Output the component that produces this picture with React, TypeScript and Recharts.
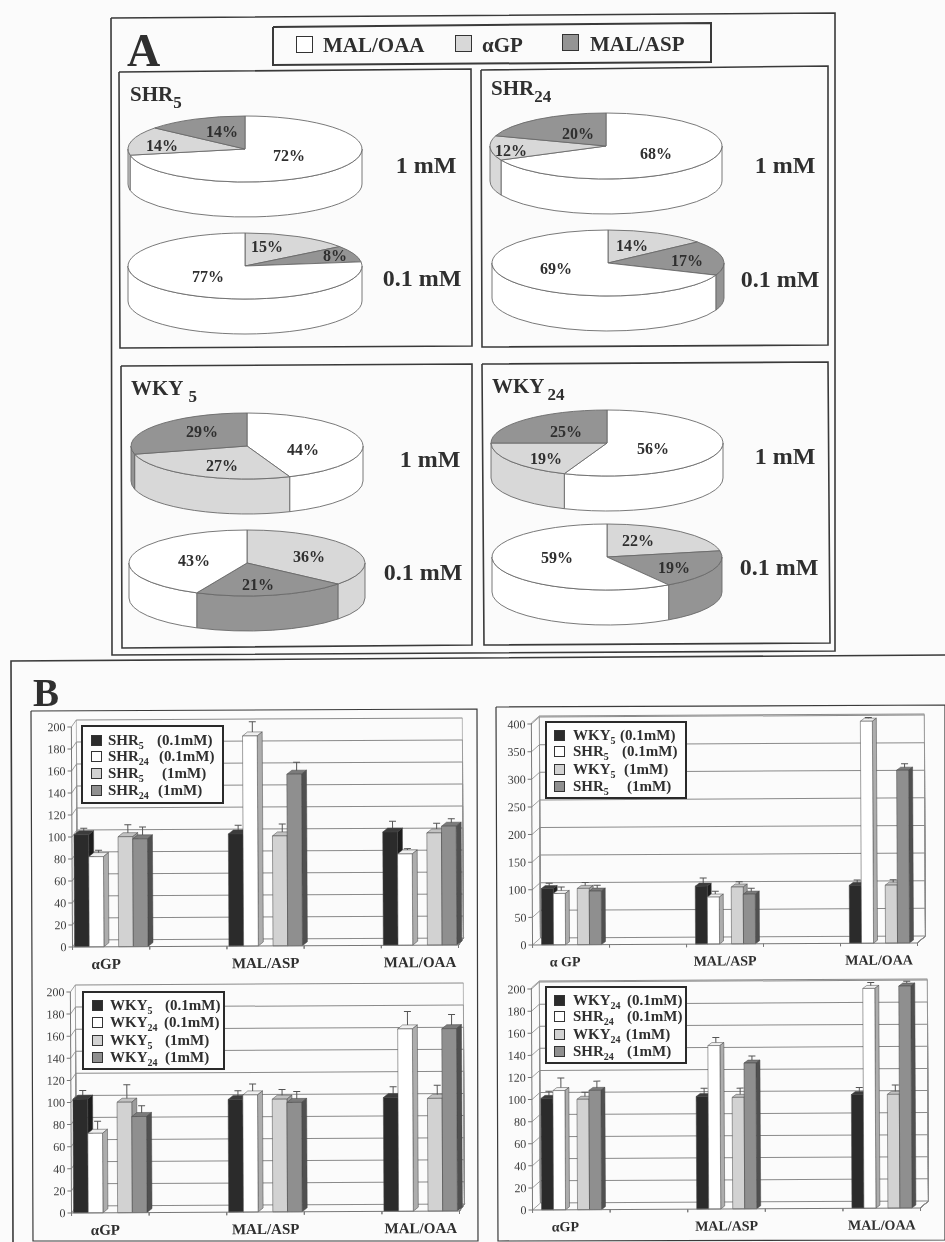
import React from "react";
import {
  Bar,
  BarChart,
  CartesianGrid,
  Pie,
  PieChart,
  XAxis,
  YAxis,
} from "recharts";

const SERIF = "'Liberation Serif', 'Times New Roman', serif";
const INK = "#2f2f2f";
const TILT = "rotate(-0.3deg)";

// panel A: percent shares in the clockwise order they are drawn from 12 o'clock
const highOrder = ["MAL/OAA", "αGP", "MAL/ASP"];
const lowOrder = ["αGP", "MAL/ASP", "MAL/OAA"];
const shr5High = [72, 14, 14];
const shr5Low = [15, 8, 77];
const shr24High = [68, 12, 20];
const shr24Low = [14, 17, 69];
const wky5High = [44, 27, 29];
const wky5Low = [36, 21, 43];
const wky24High = [56, 19, 25];
const wky24Low = [22, 19, 59];

const sliceFill: Record<string, string> = {
  "MAL/OAA": "#ffffff",
  "αGP": "#d8d8d8",
  "MAL/ASP": "#949494",
};

// panel B: bar values and upper error lengths, null = empty category
const categories = ["αGP", "", "MAL/ASP", "", "MAL/OAA"];
const categoriesSpaced = ["α GP", "", "MAL/ASP", "", "MAL/OAA"];

const shrValues = [
  [102, null, 102, null, 103],
  [82, null, 191, null, 83],
  [100, null, 100, null, 102],
  [98, null, 156, null, 108],
];
const shrErrors = [
  [4, null, 6, null, 8],
  [4, null, 11, null, 3],
  [9, null, 9, null, 7],
  [9, null, 9, null, 5],
];
const wkyShrValues = [
  [102, null, 105, null, 105],
  [93, null, 85, null, 402],
  [102, null, 103, null, 105],
  [97, null, 90, null, 313],
];
const wkyShrErrors = [
  [7, null, 12, null, 7],
  [9, null, 8, null, 4],
  [8, null, 7, null, 7],
  [8, null, 8, null, 9],
];
const wkyValues = [
  [103, null, 102, null, 103],
  [72, null, 106, null, 165],
  [100, null, 102, null, 102],
  [87, null, 99, null, 165],
];
const wkyErrors = [
  [6, null, 6, null, 8],
  [9, null, 8, null, 14],
  [14, null, 7, null, 10],
  [8, null, 8, null, 11],
];
const wky24Values = [
  [101, null, 102, null, 103],
  [108, null, 148, null, 199],
  [100, null, 101, null, 103],
  [108, null, 132, null, 201],
];
const wky24Errors = [
  [5, null, 6, null, 5],
  [10, null, 6, null, 4],
  [5, null, 7, null, 7],
  [7, null, 5, null, 3],
];

const ticks200 = [0, 20, 40, 60, 80, 100, 120, 140, 160, 180, 200];
const ticks400 = [0, 50, 100, 150, 200, 250, 300, 350, 400];

const barFront = ["#2b2b2b", "#ffffff", "#d2d2d2", "#8f8f8f"];
const barTop = ["#3c3c3c", "#f0f0f0", "#c2c2c2", "#7b7b7b"];
const barSide = ["#1d1d1d", "#adadad", "#9c9c9c", "#505050"];

// frames traced as corner lists, the scan sits slightly crooked
const frames = [
  { pts: "111,18 835,13 835,651 112,655 111,18", w: 1.6 },
  { pts: "273,27 711,23 711,62 273,65 273,27", w: 2 },
  { pts: "119,72 471,69 472,346 120,348 119,72", w: 1.6 },
  { pts: "481,70 828,66 828,345 482,347 481,70", w: 1.6 },
  { pts: "121,366 472,364 472,645 122,648 121,366", w: 1.6 },
  { pts: "482,364 828,362 830,643 484,645 482,364", w: 1.6 },
  { pts: "13,1242 11,661 945,655", w: 1.6 },
  { pts: "31,711 477,709 478,1241 33,1241 31,711", w: 1.2 },
  { pts: "496,707 945,705 945,1240 498,1241 496,707", w: 1.2 },
];

const WALL = 35;
const PIE_W = 300;
const PIE_H = 120;
const PIE_CX = 150;
const PIE_CY = 45;

const ellipseShape = (ry: number) => (props: any) => {
  const { cx, cy, outerRadius: rx, startAngle, endAngle, fill } = props;
  const pt = (deg: number, dy = 0) => {
    const a = (deg * Math.PI) / 180;
    return `${cx + rx * Math.cos(a)} ${cy - ry * Math.sin(a) + dy}`;
  };
  const large = Math.abs(startAngle - endAngle) > 180 ? 1 : 0;
  const a1 = Math.min(startAngle, 0);
  const a2 = Math.max(endAngle, -180);
  const hasWall = a1 > a2;
  return (
    <g>
      {hasWall && (
        <path
          d={`M ${pt(a1)} A ${rx} ${ry} 0 0 1 ${pt(a2)} L ${pt(a2, WALL)} A ${rx} ${ry} 0 0 0 ${pt(a1, WALL)} Z`}
          fill={fill}
          stroke="#6a6a6a"
          strokeWidth={0.9}
        />
      )}
      <path
        d={`M ${cx} ${cy} L ${pt(startAngle)} A ${rx} ${ry} 0 ${large} 1 ${pt(endAngle)} Z`}
        fill={fill}
        stroke="#6a6a6a"
        strokeWidth={0.9}
      />
    </g>
  );
};

type DiscProps = {
  values: number[];
  order: string[];
  cx: number;
  cy: number;
  rx: number;
  labels: number[][];
};

const Disc = ({ values, order, cx, cy, rx, labels }: DiscProps) => {
  const data = values.map((value, i) => ({
    name: order[i],
    value,
    fill: sliceFill[order[i]],
  }));
  const left = cx - PIE_CX;
  const top = cy - PIE_CY;
  const renderLabel = (p: any) => (
    <text
      x={labels[p.index][0] - left}
      y={labels[p.index][1] - top}
      textAnchor="middle"
      dominantBaseline="central"
      fontFamily={SERIF}
      fontWeight={700}
      fontSize={16}
      fill={INK}
    >
      {values[p.index]}%
    </text>
  );
  return (
    <div style={{ position: "absolute", left, top }}>
      <PieChart width={PIE_W} height={PIE_H} margin={{ top: 0, right: 0, bottom: 0, left: 0 }}>
        <Pie
          data={data}
          dataKey="value"
          cx={PIE_CX}
          cy={PIE_CY}
          outerRadius={rx}
          startAngle={90}
          endAngle={-270}
          isAnimationActive={false}
          shape={ellipseShape(33)}
          label={renderLabel}
          labelLine={false}
        />
      </PieChart>
    </div>
  );
};

const Txt = ({ x, y, size, anchor = "left", weight = 700, children }: any) => (
  <div
    style={{
      position: "absolute",
      left: x,
      top: y,
      transform: `translate(${anchor === "center" ? "-50%" : "0"}, -50%)`,
      fontFamily: SERIF,
      fontWeight: weight,
      fontSize: size,
      lineHeight: 1,
      color: INK,
      whiteSpace: "nowrap",
    }}
  >
    {children}
  </div>
);

const PanelTitle = ({ x, y, name, sub, gap = 0 }: any) => (
  <Txt x={x} y={y} size={21}>
    {name}
    <span style={{ fontSize: 17, position: "relative", top: 7, marginLeft: gap }}>{sub}</span>
  </Txt>
);

const Swatch = ({ x, y, size, fill, border = 1.5 }: any) => (
  <div
    style={{
      position: "absolute",
      left: x,
      top: y,
      width: size,
      height: size,
      boxSizing: "border-box",
      background: fill,
      border: `${border}px solid #333`,
    }}
  />
);

const bar3d = (index: number, depthX: number, depthY: number) => (props: any) => {
  const { x, y, width, height, payload } = props;
  const raw = payload[`s${index}`];
  const err = payload[`e${index}`];
  if (!height || raw == null || err == null) return <g />;
  const tipX = x + width / 2 + depthX / 2;
  const baseY = y - depthY / 2;
  const tipY = baseY - (err * height) / raw;
  const edge = "#444";
  return (
    <g>
      <line x1={tipX} y1={baseY} x2={tipX} y2={tipY} stroke="#555" strokeWidth={1} />
      <line x1={tipX - 3.5} y1={tipY} x2={tipX + 3.5} y2={tipY} stroke="#555" strokeWidth={1} />
      <path
        d={`M ${x} ${y} L ${x + depthX} ${y - depthY} L ${x + width + depthX} ${y - depthY} L ${x + width} ${y} Z`}
        fill={barTop[index]}
        stroke={edge}
        strokeWidth={0.5}
      />
      <path
        d={`M ${x + width} ${y} L ${x + width + depthX} ${y - depthY} L ${x + width + depthX} ${y + height - depthY} L ${x + width} ${y + height} Z`}
        fill={barSide[index]}
        stroke={edge}
        strokeWidth={0.5}
      />
      <rect x={x} y={y} width={width} height={height} fill={barFront[index]} stroke={edge} strokeWidth={0.5} />
    </g>
  );
};

type LegendRow = { name: string; sub: string; dose: string; doseX: number; y: number };

type BarPanelProps = {
  plotLeft: number;
  plotRight: number;
  yTop: number;
  yZero: number;
  maxValue: number;
  ticks: number[];
  cats: string[];
  values: (number | null)[][];
  errors: (number | null)[][];
  barSize: number;
  depthX: number;
  depthY: number;
  wallX: number;
  wallY: number;
  labelSize: number;
  labelShift: number;
};

const BarPanel = (p: BarPanelProps) => {
  const marginLeft = 40;
  const marginTop = 12;
  const marginRight = 30;
  const marginBottom = 34;
  const plotW = p.plotRight - p.plotLeft;
  const plotH = p.yZero - p.yTop;
  const rows = p.cats.map((name, i) => {
    const row: Record<string, string | number | null> = { name };
    p.values.forEach((vals, s) => {
      row[`s${s}`] = vals[i];
      row[`e${s}`] = p.errors[s][i];
    });
    return row;
  });
  const gridLine = (g: any) => {
    const { x1, y1, x2, y2, index } = g;
    const c = "#8a8a8a";
    return (
      <g key={`grid-${index}-${y1}`}>
        <line x1={x1} y1={y1} x2={x1 + p.wallX} y2={y1 - p.wallY} stroke={c} strokeWidth={0.8} />
        <line x1={x1 + p.wallX} y1={y1 - p.wallY} x2={x2 + p.wallX} y2={y2 - p.wallY} stroke={c} strokeWidth={1} />
        <line x1={x2 + p.wallX} y1={y1 - p.wallY} x2={x2 + p.wallX} y2={plotH + marginTop - p.wallY} stroke={c} strokeWidth={0.6} />
        <line x1={x1 + p.wallX} y1={y1 - p.wallY} x2={x1 + p.wallX} y2={plotH + marginTop - p.wallY} stroke={c} strokeWidth={0.6} />
        <line x1={x2} y1={marginTop + plotH} x2={x2 + p.wallX} y2={marginTop + plotH - p.wallY} stroke={c} strokeWidth={0.8} />
      </g>
    );
  };
  const renderTick = (t: any) => {
    const half = plotW / p.cats.length / 2;
    const label = p.cats[t.index];
    return (
      <g>
        <line x1={t.x - half} y1={marginTop + plotH} x2={t.x - half} y2={marginTop + plotH + 3} stroke="#777" />
        <line x1={t.x + half} y1={marginTop + plotH} x2={t.x + half} y2={marginTop + plotH + 3} stroke="#777" />
        {label && (
          <text
            x={t.x + (t.index === 0 ? p.labelShift : 0)}
            y={marginTop + plotH + 17}
            textAnchor="middle"
            dominantBaseline="central"
            fontFamily={SERIF}
            fontWeight={700}
            fontSize={p.labelSize}
            fill={INK}
          >
            {label}
          </text>
        )}
      </g>
    );
  };
  return (
    <div style={{ position: "absolute", left: p.plotLeft - marginLeft, top: p.yTop - marginTop, transform: TILT }}>
      <BarChart
        width={plotW + marginLeft + marginRight}
        height={plotH + marginTop + marginBottom}
        data={rows}
        barSize={p.barSize}
        barGap={0}
        margin={{ top: marginTop, right: marginRight, bottom: 0, left: 0 }}
      >
        <CartesianGrid vertical={false} horizontal={gridLine} />
        <XAxis
          dataKey="name"
          height={marginBottom}
          interval={0}
          tickLine={false}
          axisLine={{ stroke: "#777" }}
          tick={renderTick}
        />
        <YAxis
          width={marginLeft}
          domain={[0, p.maxValue]}
          ticks={p.ticks}
          interval={0}
          tickSize={4}
          tickMargin={2}
          tickLine={{ stroke: "#777" }}
          axisLine={{ stroke: "#777" }}
          tick={{ fontFamily: SERIF, fontSize: 12, fill: "#3d3d3d" }}
        />
        <Bar dataKey="s0" isAnimationActive={false} shape={bar3d(0, p.depthX, p.depthY)} />
        <Bar dataKey="s1" isAnimationActive={false} shape={bar3d(1, p.depthX, p.depthY)} />
        <Bar dataKey="spacer" isAnimationActive={false} shape={() => <g />} />
        <Bar dataKey="s2" isAnimationActive={false} shape={bar3d(2, p.depthX, p.depthY)} />
        <Bar dataKey="s3" isAnimationActive={false} shape={bar3d(3, p.depthX, p.depthY)} />
      </BarChart>
    </div>
  );
};

const BarLegend = ({ box, swatchX, textX, rows }: { box: number[]; swatchX: number; textX: number; rows: LegendRow[] }) => (
  <>
    <div
      style={{
        position: "absolute",
        left: box[0],
        top: box[1],
        width: box[2] - box[0],
        height: box[3] - box[1],
        boxSizing: "border-box",
        background: "#fdfdfd",
        border: "2px solid #2a2a2a",
      }}
    />
    {rows.map((row, i) => (
      <React.Fragment key={i}>
        <Swatch x={swatchX} y={row.y - 5} size={11} fill={barFront[i]} border={1} />
        <Txt x={textX} y={row.y} size={15}>
          {row.name}
          <span style={{ fontSize: 10, position: "relative", top: 4 }}>{row.sub}</span>
        </Txt>
        <Txt x={row.doseX} y={row.y} size={15}>
          {row.dose}
        </Txt>
      </React.Fragment>
    ))}
  </>
);

export default function App() {
  return (
    <div
      style={{
        position: "absolute",
        left: 0,
        top: 0,
        width: 945,
        height: 1242,
        overflow: "hidden",
        background: "#fbfbfb",
        filter: "blur(0.35px)",
      }}
    >
      <svg width={945} height={1242} style={{ position: "absolute", left: 0, top: 0 }}>
        {frames.map((f, i) => (
          <polyline key={i} points={f.pts} fill="none" stroke="#3a3a3a" strokeWidth={f.w} />
        ))}
      </svg>

      <Txt x={127} y={51} size={46}>A</Txt>
      <Txt x={33} y={692} size={39}>B</Txt>

      <Swatch x={296} y={36} size={17} fill={sliceFill["MAL/OAA"]} />
      <Txt x={323} y={45} size={21}>MAL/OAA</Txt>
      <Swatch x={455} y={35} size={17} fill={sliceFill["αGP"]} />
      <Txt x={482} y={45} size={21}>αGP</Txt>
      <Swatch x={562} y={34} size={17} fill={sliceFill["MAL/ASP"]} />
      <Txt x={590} y={44} size={21}>MAL/ASP</Txt>

      <PanelTitle x={130} y={94} name="SHR" sub="5" />
      <PanelTitle x={491} y={88} name="SHR" sub="24" />
      <PanelTitle x={131} y={388} name="WKY" sub="5" gap={5} />
      <PanelTitle x={492} y={386} name="WKY" sub="24" gap={3} />

      <Txt x={426} y={165} size={24} anchor="center">1 mM</Txt>
      <Txt x={422} y={278} size={24} anchor="center">0.1 mM</Txt>
      <Txt x={785} y={165} size={24} anchor="center">1 mM</Txt>
      <Txt x={780} y={279} size={24} anchor="center">0.1 mM</Txt>
      <Txt x={430} y={459} size={24} anchor="center">1 mM</Txt>
      <Txt x={423} y={572} size={24} anchor="center">0.1 mM</Txt>
      <Txt x={785} y={456} size={24} anchor="center">1 mM</Txt>
      <Txt x={779} y={567} size={24} anchor="center">0.1 mM</Txt>

      <Disc values={shr5High} order={highOrder} cx={245} cy={149} rx={117} labels={[[289, 155], [162, 145], [222, 131]]} />
      <Disc values={shr5Low} order={lowOrder} cx={245} cy={266} rx={117} labels={[[267, 246], [335, 255], [208, 276]]} />
      <Disc values={shr24High} order={highOrder} cx={606} cy={146} rx={116} labels={[[656, 153], [511, 150], [578, 133]]} />
      <Disc values={shr24Low} order={lowOrder} cx={608} cy={263} rx={116} labels={[[632, 245], [687, 260], [556, 268]]} />
      <Disc values={wky5High} order={highOrder} cx={247} cy={446} rx={116} labels={[[303, 449], [222, 465], [202, 431]]} />
      <Disc values={wky5Low} order={lowOrder} cx={247} cy={563} rx={118} labels={[[309, 556], [258, 584], [194, 560]]} />
      <Disc values={wky24High} order={highOrder} cx={607} cy={443} rx={116} labels={[[653, 448], [546, 458], [566, 431]]} />
      <Disc values={wky24Low} order={lowOrder} cx={607} cy={557} rx={115} labels={[[638, 540], [674, 567], [557, 557]]} />

      <BarPanel plotLeft={72} plotRight={458} yTop={726} yZero={946} maxValue={200} ticks={ticks200} cats={categories} values={shrValues} errors={shrErrors} barSize={14.7} depthX={5} depthY={4} wallX={5} wallY={7} labelSize={15} labelShift={-5} />
      <BarPanel plotLeft={532} plotRight={917} yTop={722} yZero={944} maxValue={400} ticks={ticks400} cats={categoriesSpaced} values={wkyShrValues} errors={wkyShrErrors} barSize={12} depthX={4} depthY={3} wallX={8} wallY={7} labelSize={14} labelShift={-6} />
      <BarPanel plotLeft={71} plotRight={459} yTop={991} yZero={1212} maxValue={200} ticks={ticks200} cats={categories} values={wkyValues} errors={wkyErrors} barSize={14.7} depthX={5} depthY={4} wallX={5} wallY={7} labelSize={15} labelShift={-5} />
      <BarPanel plotLeft={532} plotRight={920} yTop={987} yZero={1209} maxValue={200} ticks={ticks200} cats={categories} values={wky24Values} errors={wky24Errors} barSize={12} depthX={4} depthY={3} wallX={8} wallY={7} labelSize={14} labelShift={-6} />

      <BarLegend
        box={[81, 725, 224, 804]}
        swatchX={91}
        textX={108}
        rows={[
          { name: "SHR", sub: "5", dose: "(0.1mM)", doseX: 157, y: 740 },
          { name: "SHR", sub: "24", dose: "(0.1mM)", doseX: 159, y: 756 },
          { name: "SHR", sub: "5", dose: "(1mM)", doseX: 162, y: 773 },
          { name: "SHR", sub: "24", dose: "(1mM)", doseX: 158, y: 790 },
        ]}
      />
      <BarLegend
        box={[545, 721, 687, 799]}
        swatchX={554}
        textX={573}
        rows={[
          { name: "WKY", sub: "5", dose: "(0.1mM)", doseX: 620, y: 735 },
          { name: "SHR", sub: "5", dose: "(0.1mM)", doseX: 622, y: 751 },
          { name: "WKY", sub: "5", dose: "(1mM)", doseX: 624, y: 769 },
          { name: "SHR", sub: "5", dose: "(1mM)", doseX: 627, y: 786 },
        ]}
      />
      <BarLegend
        box={[82, 991, 225, 1070]}
        swatchX={92}
        textX={110}
        rows={[
          { name: "WKY", sub: "5", dose: "(0.1mM)", doseX: 165, y: 1005 },
          { name: "WKY", sub: "24", dose: "(0.1mM)", doseX: 164, y: 1022 },
          { name: "WKY", sub: "5", dose: "(1mM)", doseX: 165, y: 1040 },
          { name: "WKY", sub: "24", dose: "(1mM)", doseX: 165, y: 1057 },
        ]}
      />
      <BarLegend
        box={[545, 986, 687, 1064]}
        swatchX={554}
        textX={573}
        rows={[
          { name: "WKY", sub: "24", dose: "(0.1mM)", doseX: 627, y: 1000 },
          { name: "SHR", sub: "24", dose: "(0.1mM)", doseX: 627, y: 1016 },
          { name: "WKY", sub: "24", dose: "(1mM)", doseX: 626, y: 1034 },
          { name: "SHR", sub: "24", dose: "(1mM)", doseX: 627, y: 1051 },
        ]}
      />
    </div>
  );
}
